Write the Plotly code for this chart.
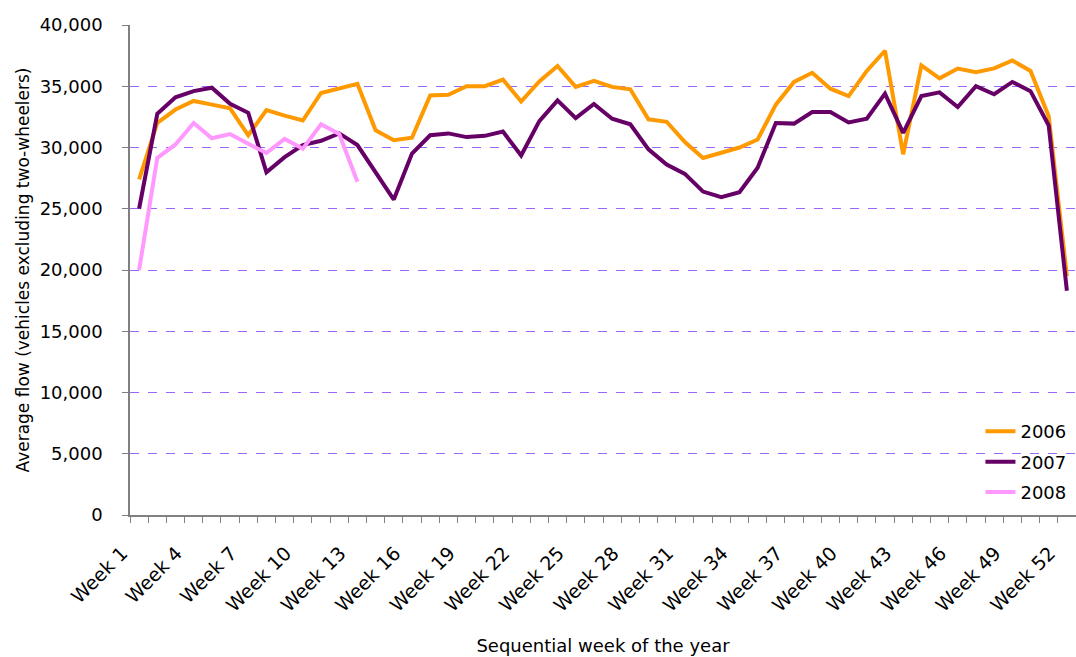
import plotly.graph_objects as go

weeks = [f"Week {i}" for i in range(1, 53)]
week_num = list(range(1, 53))

y2006 = [27400, 32000, 33100, 33800, 33500, 33200, 31000, 33050, 32600, 32200,
         34450, 34800, 35200, 31400, 30600, 30800, 34250, 34300, 35000, 35000,
         35550, 33750, 35400, 36650, 34950, 35450, 34950, 34750, 32300, 32100,
         30450, 29150, 29600, 30000, 30650, 33500, 35350, 36100, 34800, 34200,
         36250, 37900, 29450, 36700, 35650, 36450, 36150, 36460, 37100, 36250,
         32550, 19500]
y2007 = [25000, 32750, 34100, 34600, 34880, 33570, 32830, 27980, 29210, 30200,
         30550, 31150, 30200, 27900, 25750, 29500, 31000, 31150, 30850, 30950,
         31300, 29350, 32150, 33850, 32400, 33550, 32350, 31900, 29850, 28600,
         27850, 26400, 25950, 26350, 28350, 32000, 31950, 32900, 32900, 32050,
         32350, 34400, 31200, 34200, 34500, 33300, 35000, 34350, 35350, 34600,
         31800, 18300]
y2008 = [20000, 29150, 30250, 32000, 30750, 31100, 30300, 29550, 30700, 29900,
         31900, 31100, 27200]

series = [("2006", y2006, "#FF9900"), ("2007", y2007, "#660066"), ("2008", y2008, "#FF99FF")]

fig = go.Figure()
for name, vals, col in series:
    fig.add_trace(go.Scatter(x=week_num[:len(vals)], y=vals, mode="lines", name=name,
                             legendgroup=name,
                             line=dict(color=col, width=4)))

label_idx = list(range(0, 52, 3))
FONT = "DejaVu Sans"
fig.update_layout(
    width=1076, height=657,
    margin=dict(l=130, r=0, t=25, b=142, autoexpand=False),
    paper_bgcolor="white", plot_bgcolor="white",
    font=dict(family=FONT, size=18, color="black"),
    showlegend=True,
    legend=dict(x=0.899, y=0.208, xanchor="left", yanchor="top",
                font=dict(size=18), bgcolor="rgba(0,0,0,0)",
                traceorder="grouped", tracegroupgap=4, itemwidth=30),
    xaxis=dict(
        range=[0.5, 52.5],
        automargin=True,
        tickmode="array",
        tickvals=[week_num[i] for i in label_idx],
        ticktext=[weeks[i] for i in label_idx],
        tickangle=-45,
        ticks="",
        ticklabelstandoff=18,
        ticklabelshift=-17,
        ticklabeloverflow="allow",
        showgrid=False, zeroline=False,
        showline=True, linecolor="#808080", linewidth=1.5,
        minor=dict(ticks="outside", tick0=0.5, dtick=1, ticklen=6,
                   tickcolor="#808080", showgrid=False),
        title=dict(text="Sequential week of the year", font=dict(size=18), standoff=25),
        tickfont=dict(size=19),
    ),
    yaxis=dict(
        range=[0, 40000],
        automargin=True,
        tickmode="linear", dtick=5000, tick0=0,
        tickformat=",d",
        ticks="outside", ticklen=6, tickcolor="#808080",
        ticklabelstandoff=16,
        showgrid=True, gridcolor="#9966FF", griddash="dash", gridwidth=1,
        zeroline=False,
        showline=True, linecolor="#808080", linewidth=1.5,
        title=dict(text="Average flow (vehicles excluding two-wheelers)", font=dict(size=17), standoff=6),
        tickfont=dict(size=18),
    ),
)

fig.write_html("out.html", post_script="document.body.style.margin='0px';",
               config={"displayModeBar": False})
